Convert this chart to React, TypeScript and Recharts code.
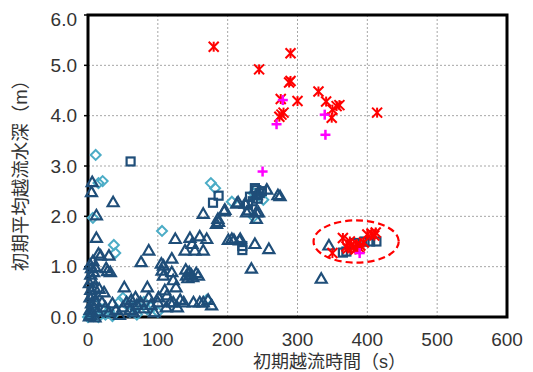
import React from 'react';
import { ScatterChart, Scatter, XAxis, YAxis, CartesianGrid, ReferenceArea } from 'recharts';

const xTicks = [0, 100, 200, 300, 400, 500, 600];
const yTicks = [0, 1, 2, 3, 4, 5, 6];

const triangles: [number, number][] = [
  [2, 0.02], [4, 0.05], [6, 0.1], [3, 0.15], [8, 0.2], [5, 0.28], [10, 0.33], [3, 0.4], [7, 0.45], [4, 0.55],
  [9, 0.6], [2, 0.68], [6, 0.75], [4, 0.85], [8, 0.9], [5, 0.98], [3, 1.05], [7, 1.12], [10, 1.0], [6, 2.69],
  [5, 2.49], [12, 2.03], [12, 1.58], [15, 1.27], [18, 1.23], [10, 0.0], [14, 0.12], [16, 0.57], [23, 0.5],
  [26, 0.98], [28, 0.92], [30, 1.23], [32, 0.9], [36, 2.29], [20, 0.3], [25, 0.2], [30, 0.1], [35, 0.28],
  [40, 0.15], [45, 0.05], [50, 0.2], [52, 0.6], [55, 0.3], [60, 0.15], [62, 0.35], [65, 0.1], [68, 0.4],
  [70, 0.25], [75, 0.3], [76, 1.1], [80, 0.18], [85, 0.6], [87, 1.33], [87, 0.4], [90, 0.25], [95, 0.1],
  [100, 0.3], [101, 0.4], [105, 1.07], [106, 0.93], [108, 1.03], [108, 0.83], [110, 0.54], [113, 0.44],
  [112, 0.2], [118, 0.3], [120, 1.17], [120, 0.9], [122, 0.74], [122, 0.3], [125, 1.56], [126, 0.6],
  [128, 0.2], [132, 0.35], [137, 0.3], [139, 1.33], [140, 0.95], [141, 0.83], [143, 0.78], [145, 0.9],
  [146, 1.58], [148, 0.85], [149, 1.46], [150, 0.8], [151, 0.3], [153, 1.33], [155, 0.88], [158, 0.83],
  [160, 1.61], [160, 0.3], [165, 1.33], [165, 2.06], [165, 0.3], [170, 1.56], [172, 0.35], [177, 0.24],
  [184, 1.86], [186, 1.96], [187, 1.9], [195, 2.11], [196, 2.14], [201, 1.54], [206, 1.56], [209, 1.54],
  [213, 2.26], [215, 2.29], [217, 1.53], [218, 1.56], [225, 2.26], [227, 2.09], [230, 2.13], [234, 0.97],
  [239, 1.46], [241, 2.43], [241, 1.96], [241, 2.09], [244, 2.09], [256, 2.54], [259, 1.36], [272, 2.43],
  [275, 2.41], [334, 0.77], [345, 1.43],
];

const squares: [number, number][] = [
  [61, 3.09], [187, 2.41], [179, 2.27], [232, 2.39], [229, 2.23], [239, 2.56], [246, 2.46], [241, 2.52],
  [236, 2.3], [243, 2.35], [249, 2.5], [221, 1.33], [221, 1.41], [370, 1.3], [382, 1.47], [396, 1.5],
  [404, 1.5], [413, 1.5], [365, 1.28],
];

const diamonds: [number, number][] = [
  [11, 3.22], [21, 2.7], [15, 2.66], [7, 1.97], [37, 1.43], [39, 1.27], [106, 1.71], [176, 2.66],
  [182, 2.56], [206, 2.29], [237, 2.46], [251, 2.33], [237, 1.99], [170, 0.34], [0, 0.0], [3, 0.05],
  [8, 0.02], [15, 0.0], [25, 0.05], [30, 0.12], [35, 0.02], [45, 0.3], [50, 0.38], [55, 0.25], [60, 0.1],
  [65, 0.2], [70, 0.05], [80, 0.3], [85, 0.15], [90, 0.2], [100, 0.1], [10, 0.25], [20, 0.15],
];

const asterisks: [number, number][] = [
  [180, 5.37], [290, 5.24], [245, 4.92], [290, 4.69], [288, 4.66], [276, 4.33], [300, 4.29], [330, 4.48],
  [341, 4.28], [356, 4.19], [360, 4.21], [350, 4.12], [349, 3.96], [277, 4.02], [280, 4.06], [274, 3.98],
  [414, 4.06], [406, 1.66], [400, 1.64], [410, 1.62], [412, 1.68], [377, 1.43], [370, 1.4], [380, 1.38],
  [385, 1.45], [375, 1.5], [390, 1.42], [365, 1.57], [389, 1.37], [350, 1.27], [383, 1.34], [372, 1.36],
  [395, 1.48],
];

const pluses: [number, number][] = [
  [279, 4.31], [270, 3.83], [339, 4.02], [340, 3.62], [250, 2.89], [389, 1.27],
];

const ellipseX: [number, number] = [323, 445];
const ellipseY: [number, number] = [1.08, 1.92];

const xTitle = '初期越流時間（s）';
const yTitle = '初期平均越流水深（m）';

const BLUE = '#1F4E79';
const CYAN = '#4BACC6';
const RED = '#FF0000';
const MAGENTA = '#FF00FF';
const FONT = "'Liberation Sans', Arial, 'Noto Sans CJK JP', sans-serif";

const toObj = (arr: [number, number][]) => arr.map(([x, y]) => ({ x, y }));

const Tri = (p: any) => {
  const { cx, cy } = p;
  return (
    <path d={`M${cx},${cy - 5} L${cx + 5.5},${cy + 4.5} L${cx - 5.5},${cy + 4.5} Z`} fill="none" stroke={BLUE} strokeWidth={2.2} strokeLinejoin="miter" />
  );
};
const Sq = (p: any) => {
  const { cx, cy } = p;
  return <rect x={cx - 4} y={cy - 4} width={8} height={8} fill="none" stroke={BLUE} strokeWidth={2.2} />;
};
const Dia = (p: any) => {
  const { cx, cy } = p;
  return <path d={`M${cx},${cy - 5} L${cx + 5},${cy} L${cx},${cy + 5} L${cx - 5},${cy} Z`} fill="none" stroke={CYAN} strokeWidth={2} />;
};
const Ast = (p: any) => {
  const { cx, cy } = p;
  return (
    <g stroke={RED} strokeWidth={2}>
      <line x1={cx - 5} y1={cy - 5} x2={cx + 5} y2={cy + 5} />
      <line x1={cx + 5} y1={cy - 5} x2={cx - 5} y2={cy + 5} />
      <line x1={cx} y1={cy - 5} x2={cx} y2={cy + 5} />
    </g>
  );
};
const Plus = (p: any) => {
  const { cx, cy } = p;
  return (
    <g stroke={MAGENTA} strokeWidth={2.5}>
      <line x1={cx - 5} y1={cy} x2={cx + 5} y2={cy} />
      <line x1={cx} y1={cy - 5} x2={cx} y2={cy + 5} />
    </g>
  );
};
const EllipseShape = (p: any) => {
  const { x, y, width, height } = p;
  return (
    <ellipse cx={x + width / 2} cy={y + height / 2} rx={width / 2} ry={Math.abs(height) / 2} fill="none" stroke={RED} strokeWidth={2.2} strokeDasharray="7 4" />
  );
};

export default function App() {
  return (
    <ScatterChart width={525} height={364} margin={{ top: 7, right: 26, bottom: 0, left: 0 }} style={{ fontFamily: FONT }}>
      <CartesianGrid stroke="#a6a6a6" strokeDasharray="2 2" strokeWidth={1} />
      <XAxis
        type="number"
        dataKey="x"
        domain={[0, 600]}
        ticks={xTicks}
        height={55}
        axisLine={false}
        tickLine={false}
        tickSize={0}
        tickMargin={16}
        tick={{ fontSize: 19, fill: '#333', fontFamily: FONT }}
        label={{ value: xTitle, position: 'insideBottom', offset: 4, dx: 32, fontSize: 18, fill: '#333', fontFamily: FONT }}
      />
      <YAxis
        type="number"
        dataKey="y"
        domain={[0, 6]}
        ticks={yTicks}
        width={80}
        axisLine={false}
        tickSize={4}
        tickMargin={7}
        tickLine={{ stroke: '#000', strokeWidth: 1.5 }}
        tickFormatter={(v: number) => v.toFixed(1)}
        tick={{ fontSize: 19, fill: '#333', fontFamily: FONT }}
        label={{ value: yTitle, angle: -90, position: 'insideLeft', offset: 12, dy: 5, fontSize: 18.5, fill: '#333', fontFamily: FONT, style: { textAnchor: 'middle' } }}
      />
      <ReferenceArea x1={0} x2={600} y1={0} y2={6} fill="none" stroke="#000" strokeWidth={3} />
      <Scatter data={toObj(diamonds)} shape={Dia} isAnimationActive={false} />
      <Scatter data={toObj(triangles)} shape={Tri} isAnimationActive={false} />
      <Scatter data={toObj(squares)} shape={Sq} isAnimationActive={false} />
      <Scatter data={toObj(asterisks)} shape={Ast} isAnimationActive={false} />
      <Scatter data={toObj(pluses)} shape={Plus} isAnimationActive={false} />
      <ReferenceArea x1={ellipseX[0]} x2={ellipseX[1]} y1={ellipseY[0]} y2={ellipseY[1]} shape={EllipseShape} />
    </ScatterChart>
  );
}
